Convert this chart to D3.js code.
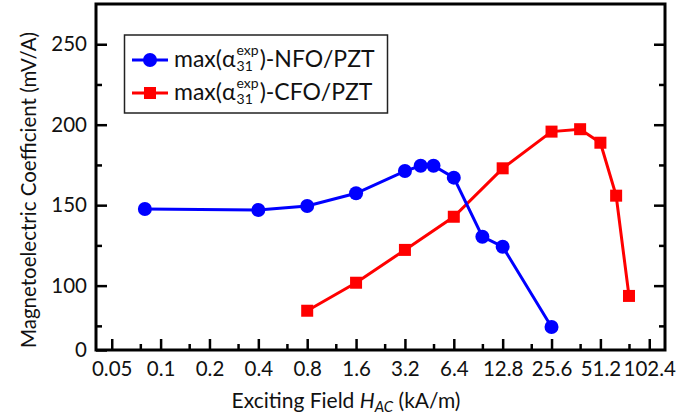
<!DOCTYPE html>
<html>
<head>
<meta charset="utf-8">
<script src="https://cdn.jsdelivr.net/npm/d3@7"></script>
<style>
  html, body { margin: 0; padding: 0; background: #fff; }
  svg { display: block; font-family: Lato, "Open Sans", sans-serif; }
</style>
</head>
<body>
<svg id="chart" width="685" height="417"></svg>
<script>
// ---- data ----
const nfoField = [0.08, 0.4, 0.8, 1.6, 3.2, 4, 4.8, 6.4, 9.6, 12.8, 25.6];
const nfoCoef  = [147.6, 147.0, 149.5, 157.4, 171.2, 174.5, 174.5, 167.1, 130.4, 124.2, 74.3];
const cfoField = [0.8, 1.6, 3.2, 6.4, 12.8, 25.6, 38.4, 51.2, 64, 76.8];
const cfoCoef  = [84.4, 101.8, 122.2, 142.8, 172.9, 195.7, 197.2, 188.8, 155.9, 93.6];

const xTicks      = [0.05, 0.1, 0.2, 0.4, 0.8, 1.6, 3.2, 6.4, 12.8, 25.6, 51.2, 102.4];
const xTickLabels = ["0.05", "0.1", "0.2", "0.4", "0.8", "1.6", "3.2", "6.4", "12.8", "25.6", "51.2", "102.4"];
const xMinor      = [0.075, 0.15, 0.3, 0.6, 1.2, 2.4, 4.8, 9.6, 19.2, 38.4, 76.8];
const yTicks      = [60, 100, 150, 200, 250];
const yTickLabels = ["0", "100", "150", "200", "250"];
const yMinor      = [75, 125, 175, 225];

const seriesNames = ["-NFO/PZT", "-CFO/PZT"];

// ---- layout ----
const svg = d3.select("#chart");
const L = 96, R = 665, T = 4, B = 350;

const x = d3.scaleLog().base(2).domain([0.04, 128]).range([L, R]);
const y = d3.scaleLinear().domain([60, 275]).range([B, T]);

function styleAxis(g) {
  g.select(".domain").remove();
  g.selectAll(".tick line").attr("stroke", "#000").attr("stroke-width", 2.5);
  g.selectAll(".tick text").attr("fill", "#111").attr("font-size", 20.5).attr("font-family", "Lato, 'Open Sans', sans-serif");
}

// bottom axis
svg.append("g").attr("transform", `translate(0,${B})`)
  .call(d3.axisBottom(x).tickValues(xTicks).tickFormat((d, i) => xTickLabels[i])
    .tickSizeInner(-11).tickSizeOuter(0).tickPadding(11))
  .call(styleAxis);
svg.append("g").attr("transform", `translate(0,${B})`)
  .call(d3.axisBottom(x).tickValues(xMinor).tickFormat("").tickSizeInner(-6).tickSizeOuter(0))
  .call(styleAxis);

// left axis
svg.append("g").attr("transform", `translate(${L},0)`)
  .call(d3.axisLeft(y).tickValues(yTicks).tickFormat((d, i) => yTickLabels[i])
    .tickSizeInner(-11).tickSizeOuter(0).tickPadding(9))
  .call(styleAxis);
svg.append("g").attr("transform", `translate(${L},0)`)
  .call(d3.axisLeft(y).tickValues(yMinor).tickFormat("").tickSizeInner(-6).tickSizeOuter(0))
  .call(styleAxis);

// right axis (ticks only)
svg.append("g").attr("transform", `translate(${R},0)`)
  .call(d3.axisRight(y).tickValues(yTicks.slice(1)).tickFormat("").tickSizeInner(-11).tickSizeOuter(0))
  .call(styleAxis);
svg.append("g").attr("transform", `translate(${R},0)`)
  .call(d3.axisRight(y).tickValues(yMinor).tickFormat("").tickSizeInner(-6).tickSizeOuter(0))
  .call(styleAxis);

// frame
svg.append("rect").attr("x", L).attr("y", T).attr("width", R - L).attr("height", B - T)
  .attr("fill", "none").attr("stroke", "#000").attr("stroke-width", 3);

// ---- series ----
const line = d3.line().x(d => x(d[0])).y(d => y(d[1]));
const nfo = nfoField.map((f, i) => [f, nfoCoef[i]]);
const cfo = cfoField.map((f, i) => [f, cfoCoef[i]]);

svg.append("path").datum(cfo).attr("d", line).attr("fill", "none")
  .attr("stroke", "#ff0000").attr("stroke-width", 3);
svg.append("g").selectAll("rect").data(cfo).join("rect")
  .attr("x", d => x(d[0]) - 6).attr("y", d => y(d[1]) - 6)
  .attr("width", 12).attr("height", 12).attr("fill", "#ff0000");

svg.append("path").datum(nfo).attr("d", line).attr("fill", "none")
  .attr("stroke", "#0000ff").attr("stroke-width", 3);
svg.append("g").selectAll("circle").data(nfo).join("circle")
  .attr("cx", d => x(d[0])).attr("cy", d => y(d[1])).attr("r", 7).attr("fill", "#0000ff");

// ---- axis titles ----
const xt = svg.append("text").attr("x", 346).attr("y", 408).attr("text-anchor", "middle")
  .attr("font-size", 21).attr("fill", "#111");
xt.append("tspan").text("Exciting Field ");
xt.append("tspan").attr("font-style", "italic").text("H");
xt.append("tspan").attr("font-style", "italic").attr("font-size", 15).attr("dy", 4).text("AC");
xt.append("tspan").attr("dy", -4).text(" (kA/m)");

svg.append("text").attr("transform", "translate(36,190) rotate(-90)").attr("text-anchor", "middle")
  .attr("font-size", 20.5).attr("fill", "#111").text("Magnetoelectric Coefficient (mV/A)");

// ---- legend ----
const lg = svg.append("g");
lg.append("rect").attr("x", 124.5).attr("y", 35).attr("width", 263).attr("height", 78)
  .attr("fill", "#fff").attr("stroke", "#222").attr("stroke-width", 1.5);
const legendRows = [
  { name: seriesNames[0], color: "#0000ff", shape: "circle", y: 60 },
  { name: seriesNames[1], color: "#ff0000", shape: "square", y: 93 }
];
legendRows.forEach(r => {
  lg.append("line").attr("x1", 132).attr("x2", 168).attr("y1", r.y).attr("y2", r.y)
    .attr("stroke", r.color).attr("stroke-width", 3);
  if (r.shape === "circle") lg.append("circle").attr("cx", 150).attr("cy", r.y).attr("r", 7).attr("fill", r.color);
  else lg.append("rect").attr("x", 144).attr("y", r.y - 6).attr("width", 12).attr("height", 12).attr("fill", r.color);
  const base = r.y + 7;
  let cx = 174;
  const t1 = lg.append("text").attr("x", cx).attr("y", base).attr("font-size", 23).attr("fill", "#111").text("max(α");
  cx += t1.node().getComputedTextLength() + 1;
  const sub = lg.append("text").attr("x", cx).attr("y", base + 4).attr("font-size", 14).attr("fill", "#111").text("31");
  const sup = lg.append("text").attr("x", cx).attr("y", base - 12).attr("font-size", 14).attr("fill", "#111").text("exp");
  cx += Math.max(sub.node().getComputedTextLength(), sup.node().getComputedTextLength()) + 1;
  lg.append("text").attr("x", cx).attr("y", base).attr("font-size", 23).attr("fill", "#111").text(")" + r.name);
});
</script>
</body>
</html>
